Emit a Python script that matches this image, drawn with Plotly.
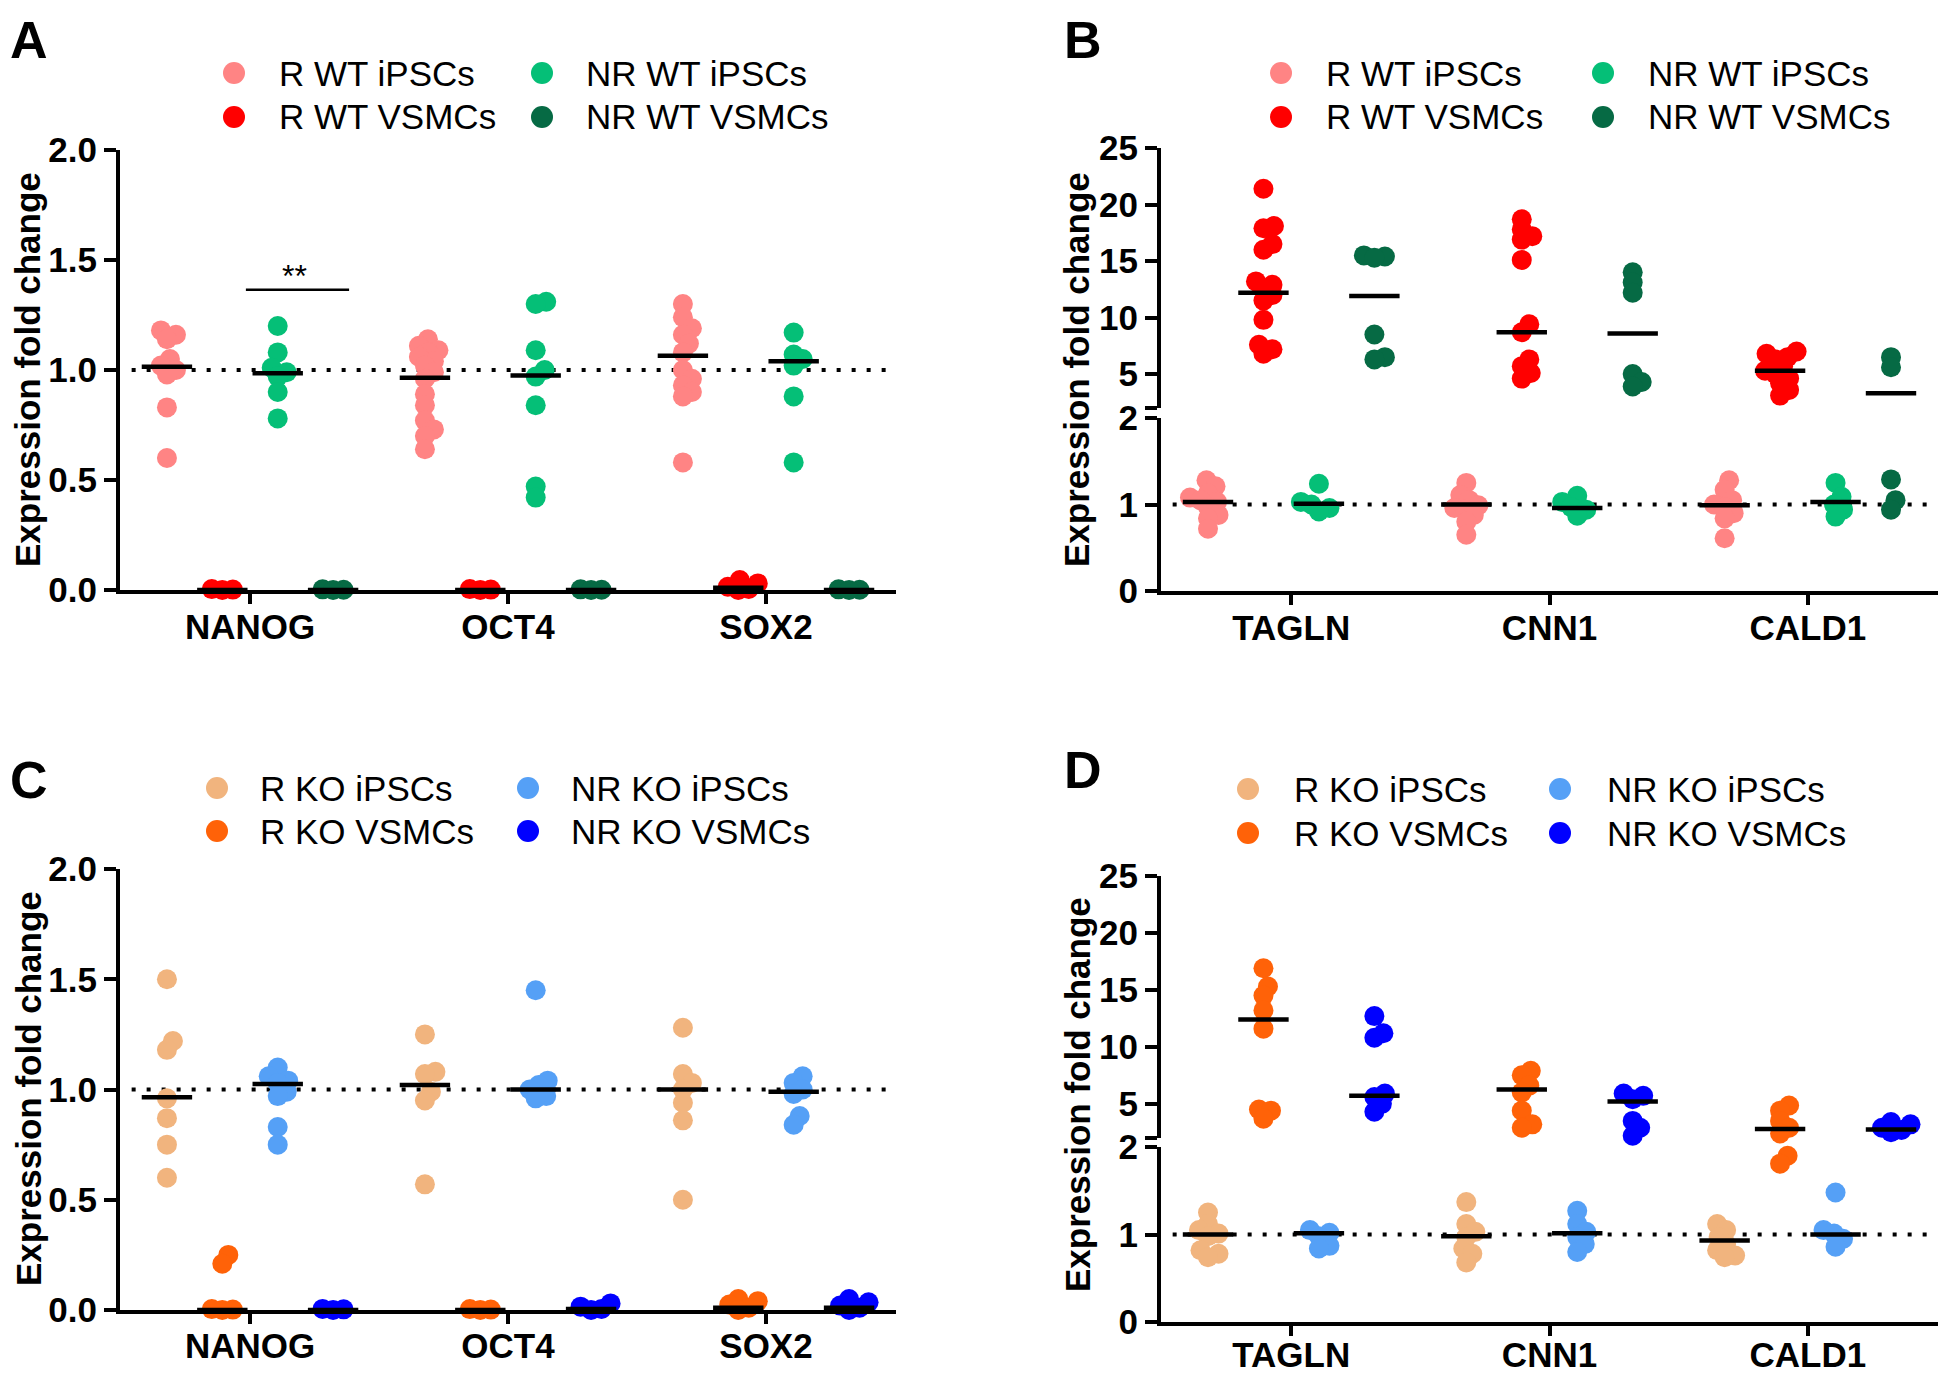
import plotly.graph_objects as go

# the page has an 8px body margin, so the figure starts 8px in from the corner
PAGE_W, PAGE_H, OFF = 1946, 1373, 8
W, H = PAGE_W - OFF, PAGE_H - OFF
FONT = "Liberation Sans, Arial, sans-serif"

# ---------------- data ----------------
genes_pluri = ["NANOG", "OCT4", "SOX2"]
genes_smc = ["TAGLN", "CNN1", "CALD1"]
wt_groups = ["R WT iPSCs", "R WT VSMCs", "NR WT iPSCs", "NR WT VSMCs"]
ko_groups = ["R KO iPSCs", "R KO VSMCs", "NR KO iPSCs", "NR KO VSMCs"]
wt_colors = ["#FF8484", "#FF0000", "#05BF77", "#066A44"]
ko_colors = ["#F1B47E", "#FF6208", "#55A0F6", "#0000FF"]

# Panel A (pluripotency genes, WT)
A_R_iPSC = [[1.18, 1.16, 1.14, 1.05, 1.02, 1.00, 0.98, 0.83, 0.60],
            [1.14, 1.11, 1.09, 1.08, 1.06, 1.04, 1.02, 0.99, 0.96, 0.89, 0.84, 0.77, 0.73, 0.70, 0.64],
            [1.30, 1.24, 1.19, 1.16, 1.12, 1.08, 1.00, 0.96, 0.93, 0.90, 0.88, 0.58]]
A_R_VSMC = [[0.004, 0.002, 0.0], [0.004, 0.002, 0.0], [0.045, 0.03, 0.015, 0.005, 0.0]]
A_NR_iPSC = [[1.20, 1.08, 1.01, 0.99, 0.97, 0.90, 0.78],
             [1.31, 1.30, 1.09, 1.00, 0.97, 0.84, 0.47, 0.42],
             [1.17, 1.07, 1.05, 1.02, 0.88, 0.58]]
A_NR_VSMC = [[0.003, 0.001, 0.0], [0.003, 0.001, 0.0], [0.003, 0.001, 0.0]]
A_centers = [[1.015, 0.965, 1.065], [0.0, 0.0, 0.01], [0.985, 0.975, 1.04], [0.0, 0.0, 0.0]]

# Panel B (SMC genes, WT)
B_R_iPSC = [[1.28, 1.21, 1.13, 1.08, 1.05, 1.03, 0.97, 0.88, 0.84, 0.72],
            [1.25, 1.11, 1.05, 0.99, 0.96, 0.94, 0.88, 0.80, 0.65],
            [1.28, 1.17, 1.05, 1.00, 0.97, 0.90, 0.84, 0.61]]
B_R_VSMC = [[21.4, 18.1, 17.9, 16.5, 16.0, 13.2, 12.9, 12.5, 12.0, 11.5, 9.8, 7.6, 7.2, 6.8],
            [18.7, 17.8, 17.2, 16.9, 15.1, 9.4, 8.7, 6.3, 5.7, 5.1, 4.6],
            [7.0, 6.8, 6.5, 6.3, 5.7, 5.3, 5.0, 4.6, 4.2, 3.6, 3.1]]
B_NR_iPSC = [[1.24, 1.03, 1.00, 0.96, 0.92],
             [1.10, 1.03, 0.97, 0.94, 0.87],
             [1.25, 1.09, 1.00, 0.94, 0.86]]
B_NR_VSMC = [[15.5, 15.4, 15.3, 8.5, 6.5, 6.3],
             [14.0, 13.1, 12.2, 5.0, 4.3, 3.9],
             [6.5, 5.6, 1.29, 1.05, 0.94]]
B_centers = [[1.03, 1.0, 0.99], [12.2, 8.7, 5.3], [1.01, 0.96, 1.03], [11.9, 8.6, 3.3]]

# Panel C (pluripotency genes, KO)
C_R_iPSC = [[1.50, 1.22, 1.18, 0.96, 0.87, 0.75, 0.60],
            [1.25, 1.08, 1.07, 0.99, 0.95, 0.57],
            [1.28, 1.07, 1.03, 1.00, 0.94, 0.86, 0.50]]
C_R_VSMC = [[0.25, 0.21, 0.004, 0.002, 0.0], [0.004, 0.002, 0.0], [0.05, 0.04, 0.025, 0.01, 0.0]]
C_NR_iPSC = [[1.10, 1.06, 1.04, 1.03, 0.99, 0.97, 0.83, 0.75],
             [1.45, 1.04, 1.02, 1.00, 0.97, 0.96],
             [1.06, 1.03, 1.00, 0.98, 0.88, 0.84]]
C_NR_VSMC = [[0.005, 0.003, 0.0], [0.03, 0.015, 0.005, 0.0], [0.05, 0.035, 0.02, 0.01, 0.0]]
C_centers = [[0.965, 1.02, 1.0], [0.0, 0.0, 0.01], [1.025, 1.0, 0.99], [0.0, 0.005, 0.01]]

# Panel D (SMC genes, KO)
D_R_iPSC = [[1.25, 1.12, 1.05, 1.01, 0.98, 0.82, 0.78, 0.74],
            [1.37, 1.12, 1.03, 0.97, 0.84, 0.78, 0.68],
            [1.12, 1.05, 0.97, 0.89, 0.82, 0.76, 0.74]]
D_R_VSMC = [[16.9, 15.3, 14.5, 13.2, 11.6, 4.5, 4.4, 3.7],
            [7.9, 7.5, 6.6, 6.0, 4.4, 3.2, 2.9],
            [4.85, 4.4, 3.5, 2.9, 2.4, 1.90, 1.81]]
D_NR_iPSC = [[1.05, 1.02, 0.98, 0.87, 0.84],
             [1.27, 1.12, 1.03, 0.97, 0.89, 0.80],
             [1.48, 1.05, 1.01, 0.95, 0.86]]
D_NR_VSMC = [[12.7, 11.2, 10.8, 5.9, 5.6, 5.0, 4.3],
             [5.9, 5.7, 5.4, 3.5, 2.9, 2.2],
             [3.4, 3.2, 2.9, 2.7, 2.5]]
D_centers = [[1.0, 0.98, 0.93], [12.4, 6.26, 2.8], [1.015, 1.015, 1.0], [5.7, 5.2, 2.75]]

lin_ticks = [0, 0.5, 1.0, 1.5, 2.0]
lin_ticktext = ["0.0", "0.5", "1.0", "1.5", "2.0"]
low_ticks = [0, 1, 2]
high_ticks = [2, 5, 10, 15, 20, 25]
high_ticktext = ["", "5", "10", "15", "20", "25"]

# ---------------- layout geometry (page pixels -> paper) ----------------
def fx(x):
    return (x - OFF) / W

def fy(y):
    return 1 - (y - OFF) / H

def px(x):
    return min(1.0, max(0.0, fx(x)))

def py(y):
    return min(1.0, max(0.0, fy(y)))

X_PX_PER_UNIT = 258.0
GROUP_STEP = 0.2147
MARKER = 20
MIN_DIST = 10.0

def swarm(vals, to_px, mind=MIN_DIST, step=1.5):
    ys = [to_px(v) for v in vals]
    order = sorted(range(len(vals)), key=lambda i: ys[i])
    placed = []
    offs = [0.0] * len(vals)
    for i in order:
        k = 0
        chosen = None
        while chosen is None:
            cands = [0.0] if k == 0 else [k * step, -k * step]
            for c in cands:
                if all((c - qx) ** 2 + (ys[i] - qy) ** 2 >= mind ** 2 - 1e-9 for qx, qy in placed):
                    chosen = c
                    break
            k += 1
        offs[i] = chosen
        placed.append((chosen, ys[i]))
    return offs

def lin_px(v):
    return v * 220.0

def broken_px(v):
    return v * 86.5 if v < 2 else 173 + 10 + (v - 2) * 11.3

fig = go.Figure()

def add_panel(groups_data, centers, colors, xa, ya_low, ya_high=None):
    to_px = broken_px if ya_high else lin_px
    for g, gdata in enumerate(groups_data):
        xs_lo, ys_lo, xs_hi, ys_hi = [], [], [], []
        for gi, vals in enumerate(gdata):
            xc = gi + (g - 1.5) * GROUP_STEP
            offs = swarm(vals, to_px)
            for v, o in zip(vals, offs):
                xv = xc + o / X_PX_PER_UNIT
                if ya_high and v >= 2:
                    xs_hi.append(xv); ys_hi.append(v)
                else:
                    xs_lo.append(xv); ys_lo.append(v)
        for xs, ys, ya in ((xs_lo, ys_lo, ya_low), (xs_hi, ys_hi, ya_high)):
            if xs:
                fig.add_trace(go.Scatter(
                    x=xs, y=ys, mode="markers", xaxis=xa, yaxis=ya,
                    marker=dict(size=MARKER, color=colors[g], line=dict(width=0)),
                    cliponaxis=False, showlegend=False, hoverinfo="y"))
    cx_lo, cy_lo, cx_hi, cy_hi = [], [], [], []
    for g, cvals in enumerate(centers):
        for gi, c in enumerate(cvals):
            xc = gi + (g - 1.5) * GROUP_STEP
            if ya_high and c >= 2:
                cx_hi.append(xc); cy_hi.append(c)
            else:
                cx_lo.append(xc); cy_lo.append(c)
    for xs, ys, ya in ((cx_lo, cy_lo, ya_low), (cx_hi, cy_hi, ya_high)):
        if xs:
            fig.add_trace(go.Scatter(
                x=xs, y=ys, mode="markers", xaxis=xa, yaxis=ya,
                marker=dict(symbol="line-ew", size=36, color="black",
                            line=dict(width=4.5, color="black")),
                cliponaxis=False, showlegend=False, hoverinfo="skip"))

add_panel([A_R_iPSC, A_R_VSMC, A_NR_iPSC, A_NR_VSMC], A_centers, wt_colors, "x", "y")
add_panel([B_R_iPSC, B_R_VSMC, B_NR_iPSC, B_NR_VSMC], B_centers, wt_colors, "x2", "y2", "y3")
add_panel([C_R_iPSC, C_R_VSMC, C_NR_iPSC, C_NR_VSMC], C_centers, ko_colors, "x3", "y4")
add_panel([D_R_iPSC, D_R_VSMC, D_NR_iPSC, D_NR_VSMC], D_centers, ko_colors, "x4", "y5", "y6")

tickfont = dict(family=FONT, size=35, color="black", weight="bold")
axis_common = dict(showline=True, linewidth=4, linecolor="black", ticks="outside",
                   tickwidth=4, tickcolor="black", showgrid=False, zeroline=False,
                   tickfont=tickfont, fixedrange=True, automargin=False)

def xaxis(domain, ticktext, anchor, standoff=-7):
    return dict(domain=domain, range=[-0.504, 2.504], tickmode="array", tickvals=[0, 1, 2],
                ticktext=ticktext, anchor=anchor, ticklen=10, ticklabelstandoff=standoff,
                **axis_common)

def yaxis(domain, rng, tickvals, ticktext, anchor):
    return dict(domain=domain, range=rng, tickmode="array", tickvals=tickvals,
                ticktext=ticktext, anchor=anchor, ticklen=12, **axis_common)

left_x = [px(120), px(896)]
right_x = [px(1161), px(1938)]

fig.update_layout(
    width=W, height=H, margin=dict(l=0, r=0, t=0, b=0, autoexpand=False),
    paper_bgcolor="white", plot_bgcolor="white", showlegend=False,
    font=dict(family=FONT, color="black"),
    xaxis=xaxis(left_x, genes_pluri, "y"),
    yaxis=yaxis([py(590), py(150)], [0, 2], lin_ticks, lin_ticktext, "x"),
    xaxis2=xaxis(right_x, genes_smc, "y2"),
    yaxis2=yaxis([py(591), py(418)], [0, 2], low_ticks, [str(t) for t in low_ticks], "x2"),
    yaxis3=yaxis([py(408), py(148)], [2, 25], high_ticks, high_ticktext, "x2"),
    xaxis3=xaxis(left_x, genes_pluri, "y4", -8),
    yaxis4=yaxis([py(1310), py(869)], [0, 2], lin_ticks, lin_ticktext, "x3"),
    xaxis4=xaxis(right_x, genes_smc, "y5", -11),
    yaxis5=yaxis([py(1322), py(1147)], [0, 2], low_ticks, [str(t) for t in low_ticks], "x4"),
    yaxis6=yaxis([py(1138), py(876)], [2, 25], high_ticks, high_ticktext, "x4"),
)

# dotted reference lines at 1
for xr, yr in (("x", "y"), ("x2", "y2"), ("x3", "y4"), ("x4", "y5")):
    fig.add_shape(type="line", xref=f"{xr} domain", yref=yr, x0=0.015, x1=0.99, y0=1, y1=1,
                  line=dict(color="black", width=4, dash="4px,11px"), layer="below")

# significance bar in A
fig.add_shape(type="line", xref="x", yref="y", x0=-0.016, x1=0.384, y0=1.365, y1=1.365,
              line=dict(color="black", width=2.5))
fig.add_annotation(text="**", x=0.174, y=1.365, xref="x", yref="y", yanchor="bottom",
                   showarrow=False, font=dict(family=FONT, size=32, color="black"), yshift=-6)

# y titles
for xc, yc in ((28, 370), (1077, 370), (28, 1089), (1077, 1095)):
    fig.add_annotation(text="Expression fold change", x=fx(xc), y=fy(yc), xref="paper",
                       yref="paper", textangle=-90, showarrow=False, xanchor="center",
                       yanchor="middle", font=dict(family=FONT, size=35, color="black",
                                                   weight="bold"))

# panel letters (top-anchored so they stay inside the figure)
for letter, xl, yt in (("A", 8, 9), ("B", 1062, 9), ("C", 8, 749), ("D", 1062, 739)):
    fig.add_annotation(text=letter, x=fx(xl), y=fy(yt), xref="paper", yref="paper",
                       xanchor="left", yanchor="top", showarrow=False,
                       font=dict(family=FONT, size=52, color="black", weight="bold"))

# legends (2 x 2 grid)
def add_legend(names, colors, mx, tx, rows):
    pos = {0: (0, 0), 1: (1, 0), 2: (0, 1), 3: (1, 1)}  # group -> (row, col)
    for g in range(4):
        r, c = pos[g]
        fig.add_shape(type="circle", xref="paper", yref="paper", xsizemode="pixel",
                      ysizemode="pixel", xanchor=fx(mx[c]), yanchor=fy(rows[r]),
                      x0=-11, x1=11, y0=-11, y1=11, fillcolor=colors[g],
                      line=dict(width=0))
        fig.add_annotation(text=names[g], x=fx(tx[c]), y=fy(rows[r]), xref="paper",
                           yref="paper", xanchor="left", yanchor="middle", showarrow=False,
                           font=dict(family=FONT, size=35, color="black"))

add_legend(wt_groups, wt_colors, [234, 542], [277, 584], [73, 117])
add_legend(wt_groups, wt_colors, [1281, 1603], [1324, 1646], [73, 117])
add_legend(ko_groups, ko_colors, [217, 528], [258, 569], [788, 831])
add_legend(ko_groups, ko_colors, [1248, 1560], [1292, 1605], [789, 833])

fig.write_html("out.html")
